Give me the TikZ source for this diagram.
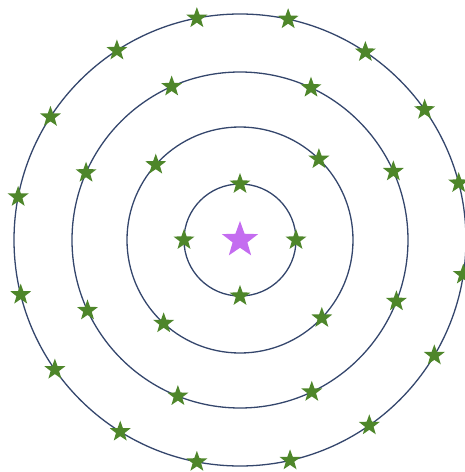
\documentclass[tikz,border=0pt]{standalone}
\usetikzlibrary{shapes.geometric}
\definecolor{cRing}{RGB}{52,70,108}
\definecolor{cLeaf}{RGB}{78,134,42}
\definecolor{cCore}{RGB}{196,108,240}
\begin{document}
\begin{tikzpicture}[x=1pt,y=1pt,
  ring/.style={draw=cRing,line width=1.3pt},
  gstar/.style={star,star points=5,star point ratio=2.45,fill=cLeaf,draw=none,inner sep=0pt,minimum size=22pt},
  core/.style={gstar,fill=cCore,minimum size=38pt}]
  \useasboundingbox (-240,-232) rectangle (225,240);
  \coordinate (c) at (0,0);
  % four rings
  \foreach \r in {56,113,168,226} \draw[ring] (c) circle (\r pt);
  \node[core] (sun) at (c) {};
  % stars on the rings, from the inside out
  \foreach \a [count=\i] in {0,90,180,270}
    \node[gstar] (a\i) at (\a:56pt) {};
  \foreach \a [count=\i] in {45.7,138.2,227.5,316.4}
    \node[gstar] (b\i) at (\a:113pt) {};
  \foreach \a [count=\i] in {24.1,65,114,156.4,204.8,248.3,295.3,338.6}
    \node[gstar] (d\i) at (\a:168pt) {};
  \foreach \a [count=\i] in {14.6,35.2,56.3,77.7,101,123,147,169,194,215,238,259,282.8,304.9,329.3,351.2}
    \node[gstar] (e\i) at (\a:226pt) {};
\end{tikzpicture}
\end{document}
